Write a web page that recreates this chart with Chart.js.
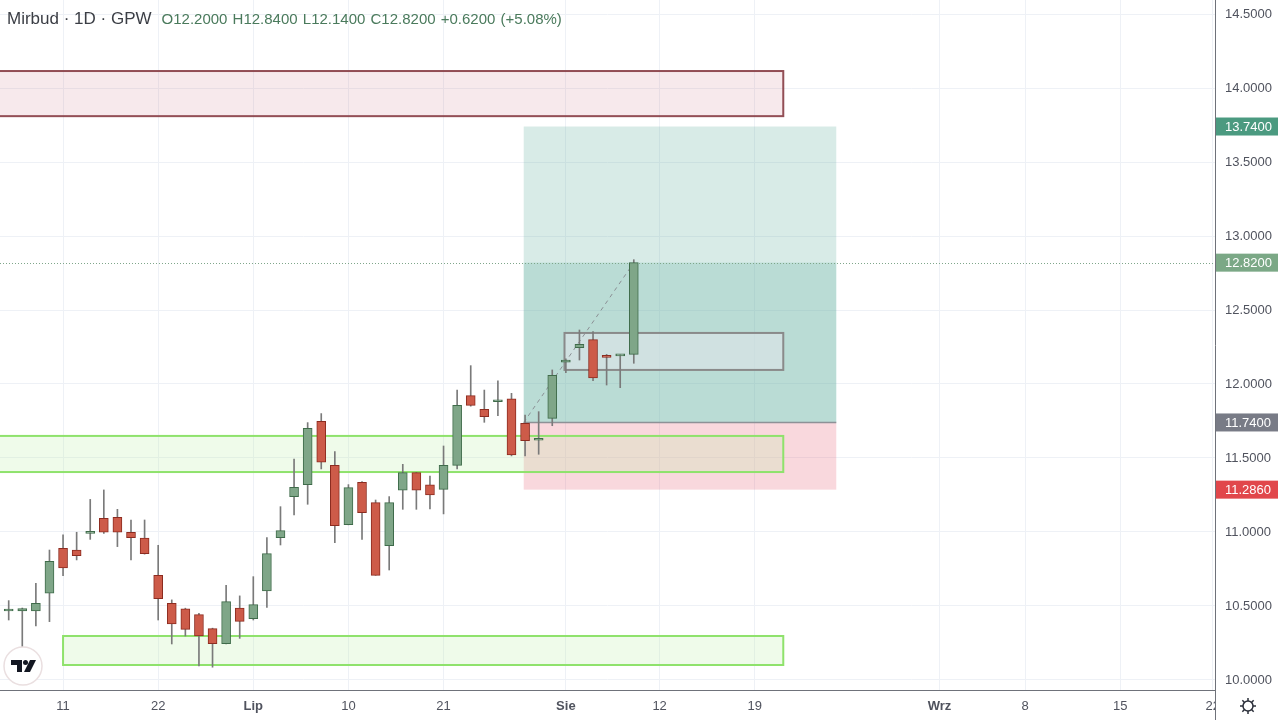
<!DOCTYPE html>
<html lang="pl">
<head>
<meta charset="utf-8">
<title>Mirbud · 1D · GPW</title>
<script src="https://cdn.jsdelivr.net/npm/chart.js@4.4.1/dist/chart.umd.min.js"></script>
<style>
  html, body { margin: 0; padding: 0; background: #fff; }
  #wrap { position: relative; width: 1280px; height: 720px; overflow: hidden; }
  #header {
    position: absolute; left: 7px; top: 8px; white-space: nowrap;
    font-family: "Liberation Sans", Arial, sans-serif; line-height: 22px;
  }
  #header .name { font-size: 17px; color: #3b3e45; }
  #header .ohlc { font-size: 15px; color: #4a7a5c; margin-left: 10px; word-spacing: 1px; }
</style>
</head>
<body>
<div id="wrap">
  <canvas id="chart" width="1280" height="720"></canvas>
  <div id="header"><span class="name">Mirbud · 1D · GPW</span><span class="ohlc">O12.2000 H12.8400 L12.1400 C12.8200 +0.6200 (+5.08%)</span></div>
</div>
<script>
// swiece dzienne (numer sesji wzgledem 11 cze)
const barIndex = [-4, -3, -2, -1, 0, 1, 2, 3, 4, 5, 6, 7, 8, 9, 10, 11, 12, 13, 14, 15, 16, 17, 18, 19,
  20, 21, 22, 23, 24, 25, 26, 27, 28, 29, 30, 31, 32, 33, 34, 35, 36, 37, 38, 39, 40, 41, 42];
const opens = [10.466, 10.466, 10.466, 10.586, 10.889, 10.878, 10.990, 11.092, 11.099, 10.998, 10.959, 10.707,
  10.518, 10.480, 10.441, 10.347, 10.245, 10.486, 10.414, 10.601, 10.962, 11.239, 11.320, 11.748,
  11.450, 11.050, 11.336, 11.198, 10.908, 11.282, 11.401, 11.318, 11.288, 11.450, 11.921, 11.829,
  11.880, 11.899, 11.734, 11.620, 11.768, 12.148, 12.245, 12.300, 12.190, 12.190, 12.200];
const highs = [10.536, 10.486, 10.653, 10.878, 10.980, 10.998, 11.220, 11.284, 11.153, 11.081, 11.081, 10.910,
  10.541, 10.485, 10.450, 10.350, 10.640, 10.568, 10.698, 10.962, 11.171, 11.493, 11.739, 11.800,
  11.543, 11.320, 11.340, 11.216, 11.239, 11.457, 11.403, 11.378, 11.581, 11.959, 12.124, 11.959,
  12.022, 11.937, 11.790, 11.813, 12.095, 12.170, 12.365, 12.354, 12.200, 12.200, 12.840];
const lows = [10.405, 10.225, 10.365, 10.394, 10.705, 10.811, 10.950, 10.990, 10.901, 10.811, 10.850, 10.405,
  10.243, 10.297, 10.095, 10.086, 10.243, 10.281, 10.405, 10.490, 10.912, 11.115, 11.187, 11.426,
  10.928, 11.048, 10.950, 10.707, 10.743, 11.153, 11.153, 11.155, 11.122, 11.426, 11.850, 11.741,
  11.786, 11.514, 11.514, 11.525, 11.718, 12.077, 12.162, 12.023, 11.993, 11.975, 12.140];
const closes = [10.472, 10.482, 10.518, 10.802, 10.757, 10.840, 11.000, 10.998, 10.998, 10.962, 10.853, 10.550,
  10.378, 10.342, 10.297, 10.245, 10.529, 10.396, 10.509, 10.854, 11.009, 11.302, 11.700, 11.471,
  11.043, 11.300, 11.131, 10.707, 11.198, 11.401, 11.282, 11.250, 11.450, 11.856, 11.856, 11.779,
  11.890, 11.520, 11.617, 11.630, 12.059, 12.162, 12.268, 12.041, 12.180, 12.200, 12.820];

// os czasu
const xTickPos = [0, 7, 14, 21, 28, 37, 43.9, 50.9, 64.5, 70.8, 77.8, 84.6];
const xTickLabels = ['11', '22', 'Lip', '10', '21', 'Sie', '12', '19', 'Wrz', '8', '15', '22'];
const monthLabels = ['Lip', 'Sie', 'Wrz'];
const yTicks = [10, 10.5, 11, 11.5, 12, 12.5, 13, 13.5, 14, 14.5];

// strefy: [od sesji, do sesji, dol, gora]
const supplyZone = [-6, 53, 13.81, 14.115];
const middleZone = [-6, 53, 11.405, 11.649];
const bottomZone = [0, 53, 10.101, 10.297];
const rangeBox = [36.9, 53, 12.095, 12.345];
// pozycja dluga: sesje, stop / wejscie / cel
const positionBars = [33.9, 56.9];
const stopPrice = 11.286, entryPrice = 11.74, targetPrice = 13.74;
const lastPrice = 12.82;
const tagPrices = [13.74, 12.82, 11.74, 11.286];

const FONT = '"Liberation Sans", Arial, sans-serif';
const upFill = '#7fa688', upLine = '#3f6b4a', dnFill = '#cd5b49', dnLine = '#8c2c20', wickCol = '#7a7a7a';
const tagColors = ['#4b9a80', '#7ba886', '#787b86', '#e1474b'];
const isUp = opens.map((o, i) => closes[i] >= o);

// rysunki TradingView (strefy, pozycja, etykiety ceny)
const drawings = {
  id: 'drawings',
  beforeDatasetsDraw(chart) {
    const { ctx, chartArea: a, scales: { x, y } } = chart;
    ctx.save();
    ctx.beginPath();
    ctx.rect(a.left, a.top, a.width, a.height);
    ctx.clip();

    const box = (z, fill, stroke, lw) => {
      const x0 = x.getPixelForValue(z[0]), x1 = x.getPixelForValue(z[1]);
      const y0 = y.getPixelForValue(z[3]), y1 = y.getPixelForValue(z[2]);
      ctx.fillStyle = fill;
      ctx.fillRect(x0, y0, x1 - x0, y1 - y0);
      if (stroke) {
        ctx.strokeStyle = stroke;
        ctx.lineWidth = lw;
        ctx.strokeRect(x0, y0, x1 - x0, y1 - y0);
      }
    };

    // pozycja dluga
    const p0 = x.getPixelForValue(positionBars[0]), p1 = x.getPixelForValue(positionBars[1]);
    const yT = y.getPixelForValue(targetPrice), yE = y.getPixelForValue(entryPrice);
    const yS = y.getPixelForValue(stopPrice), yL = y.getPixelForValue(lastPrice);
    ctx.fillStyle = 'rgba(100,175,160,0.25)';
    ctx.fillRect(p0, yT, p1 - p0, yE - yT);
    ctx.fillRect(p0, yL, p1 - p0, yE - yL);
    ctx.fillStyle = 'rgba(232,100,118,0.25)';
    ctx.fillRect(p0, yE, p1 - p0, yS - yE);
    ctx.strokeStyle = '#8d9196';
    ctx.lineWidth = 1.5;
    ctx.beginPath();
    ctx.moveTo(p0, yE);
    ctx.lineTo(p1, yE);
    ctx.stroke();

    box(supplyZone, 'rgba(200,110,125,0.15)', 'rgba(135,60,68,0.9)', 2);
    box(middleZone, 'rgba(190,240,170,0.25)', '#8fe26c', 2);
    box(bottomZone, 'rgba(190,240,170,0.25)', '#8fe26c', 2);
    box(rangeBox, 'rgba(232,232,238,0.5)', '#8a8a8a', 2);

    // linia od wejscia do ostatniej ceny
    ctx.setLineDash([4, 4]);
    ctx.strokeStyle = '#8a8f94';
    ctx.lineWidth = 1;
    ctx.beginPath();
    ctx.moveTo(p0, yE);
    ctx.lineTo(x.getPixelForValue(barIndex[barIndex.length - 1]), yL);
    ctx.stroke();

    // linia aktualnej ceny
    ctx.setLineDash([1, 2]);
    ctx.strokeStyle = '#7fa68a';
    ctx.beginPath();
    ctx.moveTo(a.left, Math.round(yL) + 0.5);
    ctx.lineTo(a.right, Math.round(yL) + 0.5);
    ctx.stroke();
    ctx.restore();
  },
  afterDraw(chart) {
    const { ctx, chartArea: a, scales: { y }, width, height } = chart;
    ctx.save();
    // rog pod osia ceny
    ctx.fillStyle = '#ffffff';
    ctx.fillRect(a.right + 1, a.bottom + 1, width - a.right, height - a.bottom);
    ctx.strokeStyle = '#6f727a';
    ctx.lineWidth = 1;
    ctx.beginPath();
    ctx.moveTo(a.right + 0.5, a.bottom);
    ctx.lineTo(a.right + 0.5, height);
    ctx.stroke();

    // etykiety cen na osi
    ctx.font = '13px ' + FONT;
    ctx.textBaseline = 'middle';
    ctx.textAlign = 'left';
    tagPrices.forEach((v, i) => {
      const py = y.getPixelForValue(v);
      ctx.fillStyle = tagColors[i];
      ctx.fillRect(a.right + 1, py - 9, width - a.right - 3, 18);
      ctx.fillStyle = '#ffffff';
      ctx.fillText(v.toFixed(4), a.right + 10, py + 0.5);
    });

    // ikona ustawien
    const gx = a.right + 33, gy = a.bottom + 16;
    ctx.strokeStyle = '#2a2e39';
    ctx.lineWidth = 1.5;
    ctx.beginPath();
    ctx.arc(gx, gy, 5, 0, Math.PI * 2);
    ctx.stroke();
    for (let k = 0; k < 8; k++) {
      const ang = k * Math.PI / 4;
      ctx.beginPath();
      ctx.moveTo(gx + Math.cos(ang) * 5, gy + Math.sin(ang) * 5);
      ctx.lineTo(gx + Math.cos(ang) * 8, gy + Math.sin(ang) * 8);
      ctx.stroke();
    }

    // logo
    const lx = a.left + 23, ly = a.bottom - 24;
    ctx.fillStyle = '#ffffff';
    ctx.strokeStyle = '#eadfe0';
    ctx.lineWidth = 1.5;
    ctx.beginPath();
    ctx.arc(lx, ly, 19, 0, Math.PI * 2);
    ctx.fill();
    ctx.stroke();
    ctx.fillStyle = '#131722';
    ctx.fillRect(lx - 12, ly - 6, 11, 5);
    ctx.fillRect(lx - 6, ly - 6, 5, 12);
    ctx.beginPath();
    ctx.arc(lx + 2.5, ly - 3.5, 2.5, 0, Math.PI * 2);
    ctx.fill();
    ctx.beginPath();
    ctx.moveTo(lx + 1, ly + 6);
    ctx.lineTo(lx + 7, ly - 6);
    ctx.lineTo(lx + 13, ly - 6);
    ctx.lineTo(lx + 7, ly + 6);
    ctx.closePath();
    ctx.fill();
    ctx.restore();
  }
};

new Chart(document.getElementById('chart'), {
  type: 'bar',
  data: {
    datasets: [
      {
        label: 'knot',
        data: barIndex.map((b, i) => ({ x: b, y: [lows[i], highs[i]] })),
        backgroundColor: wickCol,
        borderWidth: 0,
        barThickness: 1,
        grouped: false,
        order: 2
      },
      {
        label: 'korpus',
        data: barIndex.map((b, i) => ({ x: b, y: [opens[i], closes[i]] })),
        backgroundColor: isUp.map(u => u ? upFill : dnFill),
        borderColor: isUp.map(u => u ? upLine : dnLine),
        borderWidth: 1,
        borderSkipped: false,
        barThickness: 9,
        minBarLength: 2,
        grouped: false,
        order: 1
      }
    ]
  },
  options: {
    responsive: false,
    animation: false,
    layout: { padding: 0 },
    plugins: { legend: { display: false }, tooltip: { enabled: false } },
    scales: {
      x: {
        type: 'linear',
        min: -4.64,
        max: 84.77,
        offset: false,
        grid: { color: '#eef1f6', drawTicks: false, offset: false },
        border: { color: '#6f727a' },
        afterBuildTicks: s => { s.ticks = xTickPos.map(v => ({ value: v })); },
        afterFit: s => { s.height = 30; s.paddingLeft = 0; s.paddingRight = 0; },
        ticks: {
          autoSkip: false,
          maxRotation: 0,
          padding: 9,
          color: '#50535e',
          font: c => ({ family: FONT, size: 13, weight: monthLabels.includes(xTickLabels[c.index]) ? 'bold' : 'normal' }),
          callback: (v, i) => xTickLabels[i]
        }
      },
      y: {
        position: 'right',
        min: 9.932,
        max: 14.595,
        grid: { color: '#eef1f6', drawTicks: false },
        border: { color: '#6f727a' },
        afterBuildTicks: s => { s.ticks = yTicks.map(v => ({ value: v })); },
        afterFit: s => { s.width = 65; s.paddingTop = 0; s.paddingBottom = 0; },
        ticks: {
          padding: 10,
          color: '#50535e',
          font: { family: FONT, size: 13 },
          callback: v => v.toFixed(4)
        }
      }
    }
  },
  plugins: [drawings]
});
</script>
</body>
</html>
